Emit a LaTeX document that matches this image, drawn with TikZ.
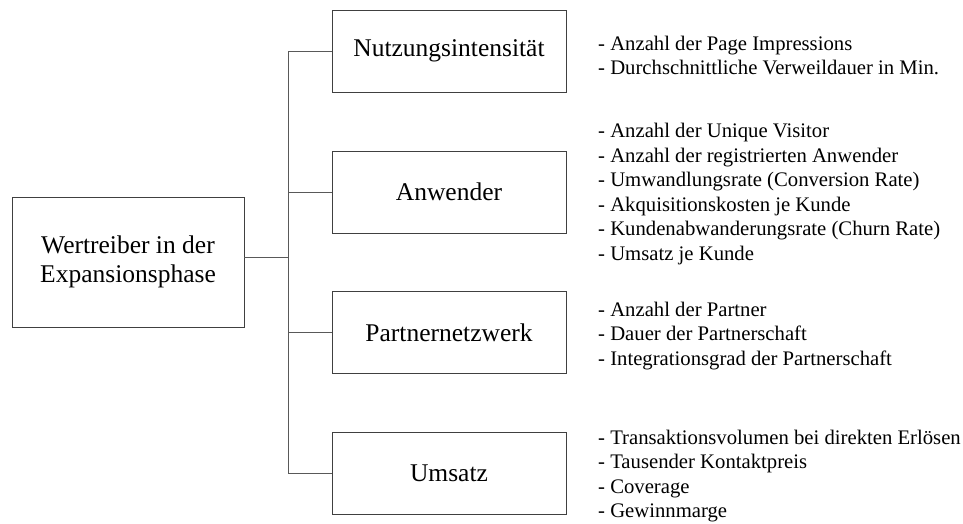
\documentclass[tikz,border=0pt]{standalone}
\usepackage{fontspec}
\setmainfont{Liberation Serif}
\begin{document}
\begin{tikzpicture}[x=1pt,y=-1pt,
  frame/.style={draw=black!75,line width=0.9pt,inner sep=0pt,align=center,
    font=\fontsize{25.5}{29.5}\selectfont},
  catbox/.style={frame,minimum width=234pt,minimum height=82pt},
  link/.style={draw=black!65,line width=0.9pt},
  items/.style={anchor=west,inner sep=0pt,align=left,
    font=\fontsize{20.7}{24.5}\selectfont}]
  % canvas
  \useasboundingbox[fill=white] (0,0) rectangle (963,524);

  % root box
  \node[frame,minimum width=232pt,minimum height=130pt] (root) at (128,262)
    {Wertreiber in der\\Expansionsphase};

  % category boxes
  \node[catbox] (nutz) at (449,51)  {Nutzungsintensität};
  \node[catbox] (anw)  at (449,192) {Anwender};
  \node[catbox] (part) at (449,332.5) {Partnernetzwerk};
  \node[catbox] (ums)  at (449,473) {Umsatz};

  % trunk of the tree
  \coordinate (jt) at (288,0);
  \draw[link] (nutz.west) -- (nutz.west -| jt) -- (ums.west -| jt) -- (ums.west);
  \draw[link] (anw.west) -- (anw.west -| jt);
  \draw[link] (part.west) -- (part.west -| jt);
  \draw[link] (root.east) ++(0,-5) coordinate (rj) -- (rj -| jt);

  % indicator lists
  \node[items] (lnutz) at (598,55.5)
    {- Anzahl der Page Impressions\\- Durchschnittliche Verweildauer in Min.};
  \node[items] (lanw) at (598,194)
    {- Anzahl der Unique Visitor\\- Anzahl der registrierten Anwender\\
     - Umwandlungsrate (Conversion Rate)\\- Akquisitionskosten je Kunde\\
     - Kundenabwanderungsrate (Churn Rate)\\- Umsatz je Kunde};
  \node[items] (lpart) at (598,336)
    {- Anzahl der Partner\\- Dauer der Partnerschaft\\- Integrationsgrad der Partnerschaft};
  \node[items] (lums) at (598,476)
    {- Transaktionsvolumen bei direkten Erlösen\\- Tausender Kontaktpreis\\
     - Coverage\\- Gewinnmarge};
\end{tikzpicture}
\end{document}
